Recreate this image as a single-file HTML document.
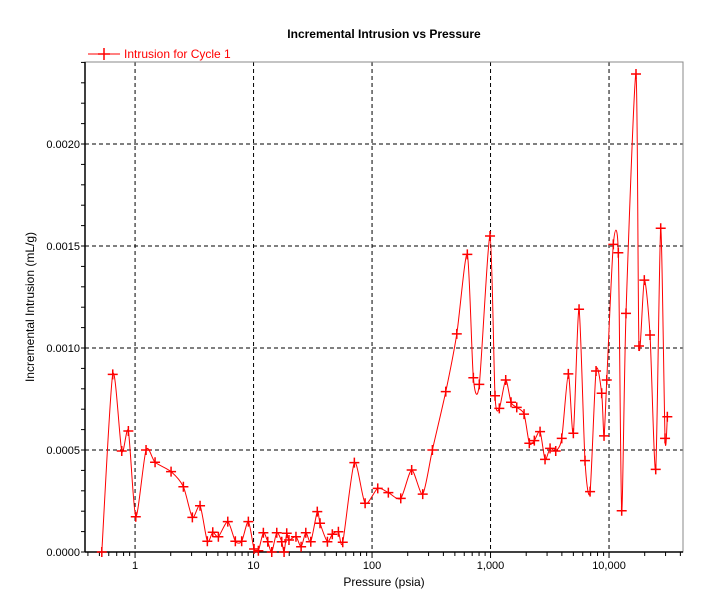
<!DOCTYPE html>
<html><head><meta charset="utf-8"><style>
body{margin:0;background:#fff;font-family:"Liberation Sans",sans-serif}
svg text{font-family:"Liberation Sans",sans-serif}
</style></head><body>
<svg id="c" width="710" height="606" xmlns="http://www.w3.org/2000/svg">
<rect width="710" height="606" fill="#fff"/>
<text x="384" y="38" text-anchor="middle" font-size="12" font-weight="bold">Incremental Intrusion vs Pressure</text>
<g>
<line x1="88" y1="54" x2="120" y2="54" stroke="#f00" stroke-width="1"/>
<path d="M98,54h12M104,48v12" stroke="#f00" stroke-width="1.5"/>
<text x="124" y="58" font-size="12" fill="#f00">Intrusion for Cycle 1</text>
</g>
<g id="grid"></g>
<g id="axes"></g>
<g id="series"></g>
<text x="384" y="586" text-anchor="middle" font-size="12">Pressure (psia)</text>
<text transform="translate(34,307) rotate(-90)" text-anchor="middle" font-size="12">Incremental Intrusion (mL/g)</text>
</svg>
<script>
const pressures=[0.524,0.648,0.772,0.878,1.014,1.238,1.475,2.013,2.557,3.045,3.536,4.074,4.525,5.047,6.06,7.02,7.94,9.04,10.1,10.98,12.1,13.18,14.24,15.7,17.3,18.1,19.05,19.9,22.8,25.2,27.6,30.4,34.5,36.4,42.0,46.2,52.0,56.6,70.9,87.4,111.7,137.3,174.7,216,267.7,323,419,519,637,716,804,990,1091,1186,1343,1489,1664,1918,2125,2342,2618,2884,3180,3550,3990,4535,5000,5585,6270,6920,7770,8670,9075,9570,10870,11980,12790,13910,16890,17900,19850,22180,24780,27300,29700,31050];
const intrusion=[0,0.000871,0.000495,0.000593,0.000173,0.0005,0.00044,0.000394,0.00032,0.00017,0.000227,0.0000525,0.0000966,0.000075,0.000149,0.0000525,0.0000525,0.000149,0.0000147,0.0000064,0.0000946,0.0000505,0,0.0000946,0.0000505,0,0.0000917,0.0000588,0.000075,0.000026,0.0000946,0.0000505,0.000198,0.000141,0.0000505,0.0000868,0.0000995,0.0000475,0.000438,0.000239,0.000312,0.000291,0.000263,0.000402,0.000284,0.0005,0.000786,0.001069,0.001459,0.000854,0.000822,0.001549,0.000766,0.000704,0.000843,0.000734,0.000709,0.000676,0.000533,0.000546,0.00059,0.000454,0.000508,0.000495,0.000557,0.000873,0.000582,0.00119,0.000448,0.000296,0.000887,0.000778,0.000569,0.000843,0.001508,0.001467,0.000202,0.00117,0.002343,0.00101,0.001333,0.001064,0.000405,0.001587,0.000557,0.000663];
const yTicks=[0,0.0005,0.001,0.0015,0.002];
const yTickLabels=["0.0000","0.0005","0.0010","0.0015","0.0020"];
const xTicks=[1,10,100,1000,10000];
const xTickLabels=["1","10","100","1,000","10,000"];

const L=85,R=683,T=62,B=552;
const xMin=Math.log10(0.378),xMax=Math.log10(42100),yMax=0.002402;
const X=p=>L+(Math.log10(p)-xMin)/(xMax-xMin)*(R-L);
const Y=v=>B-v/yMax*(B-T);
const NS="http://www.w3.org/2000/svg";
function mk(tag,attrs,parent){const e=document.createElementNS(NS,tag);for(const k in attrs)e.setAttribute(k,attrs[k]);parent.appendChild(e);return e;}
const grid=document.getElementById('grid'),axes=document.getElementById('axes'),series=document.getElementById('series');
mk('rect',{x:L,y:T,width:R-L,height:B-T,fill:'none',stroke:'#888','stroke-width':1},axes);
yTicks.forEach((v,i)=>{
  if(v>0){const g=mk('line',{x1:L,x2:R,y1:Y(v),y2:Y(v),stroke:'#000','stroke-dasharray':'4,3','stroke-width':1},grid);
  
  }
  const t=mk('text',{x:L-5,y:Y(v)+4,'text-anchor':'end','font-size':11},axes);
  t.textContent=yTickLabels[i];
  
  
});
for(let v=0;v<=yMax;v+=0.0001){mk('line',{x1:L-4,x2:L,y1:Y(v),y2:Y(v),stroke:'#000'},axes);}
xTicks.forEach((p,i)=>{
  const g=mk('line',{x1:X(p),x2:X(p),y1:T,y2:B,stroke:'#000','stroke-dasharray':'4,3','stroke-width':1},grid);
  
  
  const t=mk('text',{x:X(p),y:B+17,'text-anchor':'middle','font-size':11},axes);
  t.textContent=xTickLabels[i];
  
  
});
for(let d=-1;d<=4;d++)for(let m=1;m<=9;m++){const p=m*Math.pow(10,d);const x=X(p);if(x<L||x>R)continue;
  mk('line',{x1:x,x2:x,y1:B,y2:B+(m==1?6:4),stroke:'#000'},axes);}
mk('line',{x1:L,x2:L,y1:T,y2:B,stroke:'#000','stroke-width':1.5},axes);
mk('line',{x1:L,x2:R,y1:B,y2:B,stroke:'#000','stroke-width':1.5},axes);
const pts=pressures.map((p,i)=>[X(p),Y(intrusion[i])]);
let d='M'+pts[0][0]+','+pts[0][1];
for(let i=0;i<pts.length-1;i++){const p0=pts[Math.max(0,i-1)],p1=pts[i],p2=pts[i+1],p3=pts[Math.min(pts.length-1,i+2)];
  const k=8;
  const c1=[p1[0]+(p2[0]-p0[0])/k,p1[1]+(p2[1]-p0[1])/k],c2=[p2[0]-(p3[0]-p1[0])/k,p2[1]-(p3[1]-p1[1])/k];
  d+=`C${c1[0]},${c1[1]} ${c2[0]},${c2[1]} ${p2[0]},${p2[1]}`;}
const line=mk('path',{d:d,fill:'none',stroke:'#f00','stroke-width':1},series);


pts.forEach(([x,y])=>{
  const m=mk('path',{d:`M${x-5},${y}h10M${x},${y-5}v10`,stroke:'#f00','stroke-width':1.5},series);
  
  
});
</script>
</body></html>
